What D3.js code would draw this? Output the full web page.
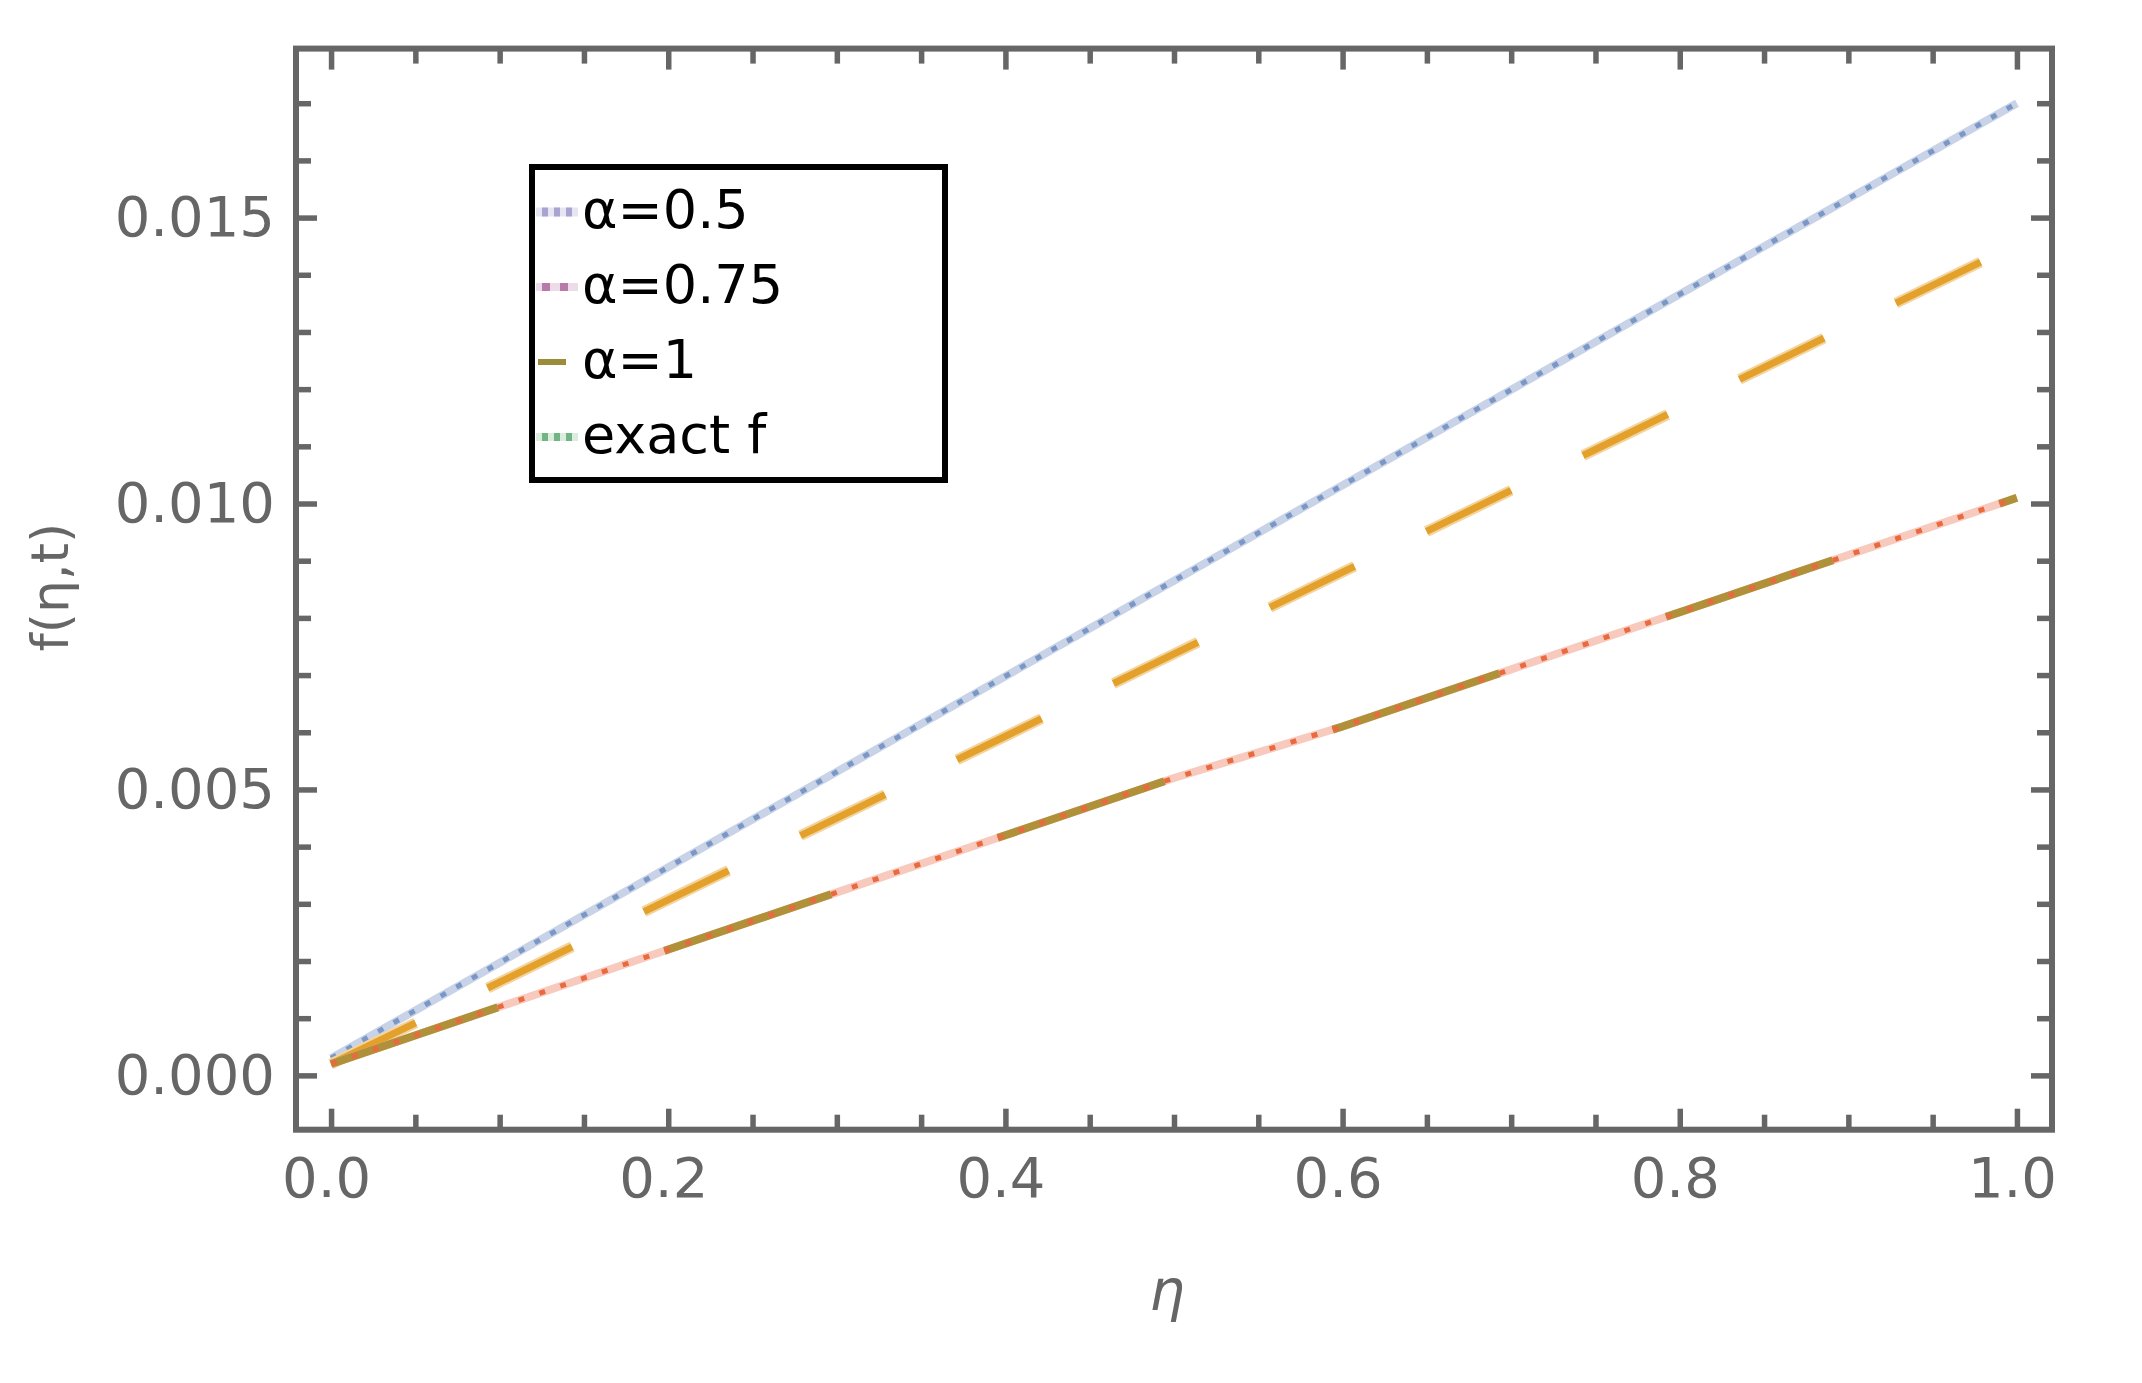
<!DOCTYPE html>
<meta charset="utf-8">
<style>
  body { margin: 0; background: #fff; }
  .frame { fill: none; stroke: #666; stroke-width: 6px; }
  .tick line { stroke: #666; stroke-width: 5.5px; }
  .tick text { font: 56px "DejaVu Sans", sans-serif; fill: #666; }
  .axis-label { font: 56px "DejaVu Sans", sans-serif; fill: #666; }
  .legend text { font: 54px "DejaVu Sans", sans-serif; fill: #000; }
</style>
<svg width="2142" height="1383"></svg>
<script src="https://d3js.org/d3.v7.min.js"></script>
<script>

    // values
    var eta      = [0, 0.1, 0.2, 0.3, 0.4, 0.5, 0.6, 0.7, 0.8, 0.9, 1.0];
    var alpha05  = [0.0003, 0.00197, 0.00364, 0.00531, 0.00698, 0.00865, 0.01032, 0.01199, 0.01366, 0.01533, 0.0170];
    var alpha075 = [0.0002, 0.00163, 0.00307, 0.0045, 0.00593, 0.00737, 0.0088, 0.01023, 0.01166, 0.0131, 0.01453];
    var alpha1   = [0.0002, 0.0012, 0.0022, 0.0032, 0.0042, 0.0052, 0.0061, 0.0071, 0.0081, 0.0091, 0.0101];
    var exactF   = [0.0002, 0.0012, 0.0022, 0.0032, 0.0042, 0.0052, 0.0061, 0.0071, 0.0081, 0.0091, 0.0101];

    var xMajor = [0, 0.2, 0.4, 0.6, 0.8, 1.0];
    var xTickLabels = ["0.0", "0.2", "0.4", "0.6", "0.8", "1.0"];
    var xMinor = [0.05, 0.1, 0.15, 0.25, 0.3, 0.35, 0.45, 0.5, 0.55, 0.65, 0.7, 0.75, 0.85, 0.9, 0.95];
    var yMajor = [0, 0.005, 0.010, 0.015];
    var yTickLabels = ["0.000", "0.005", "0.010", "0.015"];
    var yMinor = [0.001, 0.002, 0.003, 0.004, 0.006, 0.007, 0.008, 0.009, 0.011, 0.012, 0.013, 0.014, 0.016, 0.017];
    var legendLabels = ["\u03b1=0.5", "\u03b1=0.75", "\u03b1=1", "exact f"];

    var svg = d3.select("svg");

    var frameLeft = 296, frameRight = 2052, frameTop = 48.6, frameBottom = 1129.7;

    var x = d3.scaleLinear().domain([-0.0208, 1.0208]).range([frameLeft, frameRight]);
    var y = d3.scaleLinear().domain([-0.00095, 0.017955]).range([frameBottom, frameTop]);

    svg.append("defs").append("clipPath").attr("id", "clip")
        .append("rect").attr("x", frameLeft).attr("y", frameTop)
        .attr("width", frameRight - frameLeft).attr("height", frameBottom - frameTop);

    var line = d3.line()
        .x(function(d, i) { return x(eta[i]); })
        .y(function(d) { return y(d); });

    var plot = svg.append("g").attr("clip-path", "url(#clip)");

    // alpha = 0.5, blue dotted
    plot.append("path").attr("d", line(alpha05))
        .attr("fill", "none").attr("stroke", "#c8d3e8").attr("stroke-width", 8);
    plot.append("path").attr("d", line(alpha05))
        .attr("fill", "none").attr("stroke", "#7b97c5").attr("stroke-width", 5)
        .attr("stroke-dasharray", "6,12");

    // alpha = 0.75, orange dashed
    plot.append("path").attr("d", line(alpha075))
        .attr("fill", "none").attr("stroke", "#f4d49e").attr("stroke-width", 11)
        .attr("stroke-dasharray", "94,80");
    plot.append("path").attr("d", line(alpha075))
        .attr("fill", "none").attr("stroke", "#e3a12c").attr("stroke-width", 7)
        .attr("stroke-dasharray", "94,80");

    // exact f light band, then alpha = 1 green dashes, then exact f dots
    plot.append("path").attr("d", line(exactF))
        .attr("fill", "none").attr("stroke", "#f8cabd").attr("stroke-width", 8);
    plot.append("path").attr("d", line(alpha1))
        .attr("fill", "none").attr("stroke", "#b0913a").attr("stroke-width", 8)
        .attr("stroke-dasharray", "176,176");
    plot.append("path").attr("d", line(exactF))
        .attr("fill", "none").attr("stroke", "#ea6a40").attr("stroke-width", 5)
        .attr("stroke-dasharray", "6,16");

    // frame ticks on all four sides, pointing inward
    function clean(g) { g.select(".domain").remove(); }

    svg.append("g").attr("transform", "translate(0," + frameBottom + ")")
        .call(d3.axisBottom(x).tickValues(xMajor).tickSize(-21).tickPadding(27.5)
              .tickFormat(function(d, i) { return xTickLabels[i]; }))
        .call(clean)
        .selectAll("text").attr("dx", -5);
    svg.append("g").attr("transform", "translate(0," + frameBottom + ")")
        .call(d3.axisBottom(x).tickValues(xMinor).tickSize(-15).tickFormat(""))
        .call(clean);
    svg.append("g").attr("transform", "translate(0," + frameTop + ")")
        .call(d3.axisTop(x).tickValues(xMajor).tickSize(-21).tickFormat(""))
        .call(clean);
    svg.append("g").attr("transform", "translate(0," + frameTop + ")")
        .call(d3.axisTop(x).tickValues(xMinor).tickSize(-15).tickFormat(""))
        .call(clean);

    svg.append("g").attr("transform", "translate(" + frameLeft + ",0)")
        .call(d3.axisLeft(y).tickValues(yMajor).tickSize(-21).tickPadding(21)
              .tickFormat(function(d, i) { return yTickLabels[i]; }))
        .call(clean);
    svg.append("g").attr("transform", "translate(" + frameLeft + ",0)")
        .call(d3.axisLeft(y).tickValues(yMinor).tickSize(-15).tickFormat(""))
        .call(clean);
    svg.append("g").attr("transform", "translate(" + frameRight + ",0)")
        .call(d3.axisRight(y).tickValues(yMajor).tickSize(-21).tickFormat(""))
        .call(clean);
    svg.append("g").attr("transform", "translate(" + frameRight + ",0)")
        .call(d3.axisRight(y).tickValues(yMinor).tickSize(-15).tickFormat(""))
        .call(clean);

    svg.append("rect").attr("class", "frame")
        .attr("x", frameLeft).attr("y", frameTop)
        .attr("width", frameRight - frameLeft).attr("height", frameBottom - frameTop);

    // axis labels
    svg.append("text").attr("class", "axis-label")
        .attr("x", 1167).attr("y", 1310)
        .attr("text-anchor", "middle").style("font-style", "italic")
        .text("\u03b7");
    svg.append("text").attr("class", "axis-label")
        .attr("transform", "translate(68," + ((frameTop + frameBottom) / 2 - 2) + ") rotate(-90)")
        .attr("text-anchor", "middle").style("font-size", "52px")
        .text("f(\u03b7,t)");

    // legend
    var legend = svg.append("g").attr("class", "legend");
    legend.append("rect")
        .attr("x", 532).attr("y", 167).attr("width", 413).attr("height", 313)
        .attr("fill", "#fff").attr("stroke", "#000").attr("stroke-width", 6);

    var swatches = [
        { base: "#e6e5f2", dot: "#a7a4d2", dash: "6,6", w: 9 },
        { base: "#eddbe7", dot: "#b87aa8", dash: "8,10", w: 8 },
        { base: null,      dot: "#9b8c3c", dash: null, w: 6 },
        { base: "#dcede0", dot: "#72b482", dash: "6,6", w: 8 }
    ];

    legendLabels.forEach(function(label, i) {
        var by = 228 + i * 75;
        var s = swatches[i];
        if (s.base) {
            legend.append("line").attr("x1", 536).attr("x2", 578)
                .attr("y1", by - 16).attr("y2", by - 16)
                .attr("stroke", s.base).attr("stroke-width", s.w);
        }
        legend.append("line").attr("x1", i === 2 ? 538 : 542).attr("x2", i === 2 ? 566 : 578)
            .attr("y1", by - 16).attr("y2", by - 16)
            .attr("stroke", s.dot).attr("stroke-width", s.w)
            .attr("stroke-dasharray", s.dash);
        legend.append("text").attr("x", 582).attr("y", by).text(label);
    });

</script>
